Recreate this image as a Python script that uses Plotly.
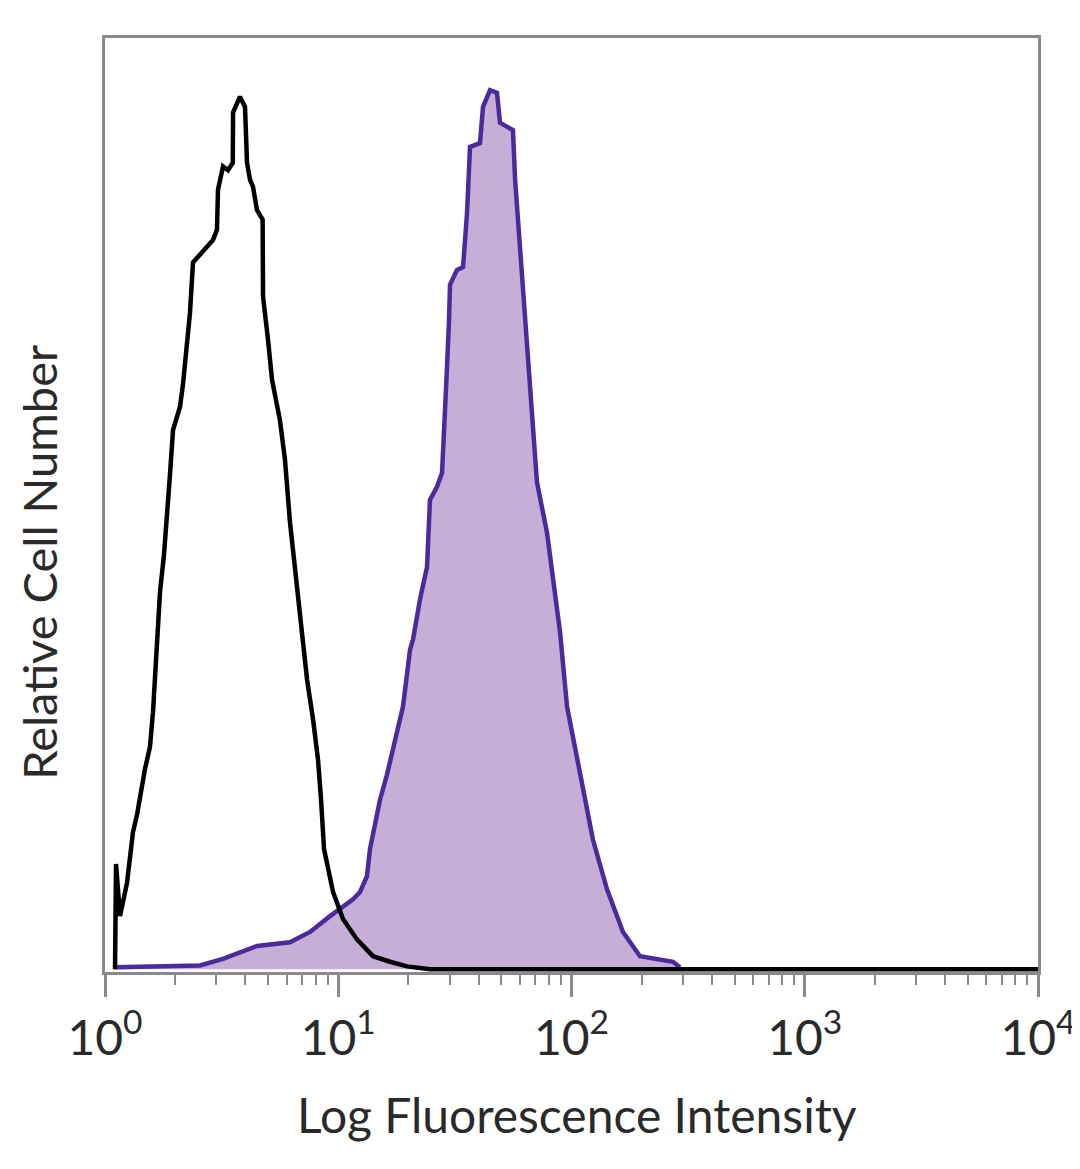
import plotly.graph_objects as go

# Isotype control (black, open histogram)
ctrl_x = [1.104, 1.104, 1.115, 1.160, 1.243, 1.318, 1.372, 1.484, 1.559, 1.606, 1.671, 1.721,
          1.790, 1.844, 1.899, 1.957, 2.097, 2.159, 2.224, 2.314, 2.384, 2.554, 2.737, 2.904,
          3.020, 3.051, 3.206, 3.368, 3.530, 3.540, 3.790, 3.984, 4.063, 4.185, 4.311, 4.485,
          4.740, 4.760, 5.00, 5.20, 5.62, 5.91, 6.21, 6.66, 6.99, 7.35, 7.80, 8.19, 8.44, 8.69,
          9.50, 10.48, 12.03, 14.09, 16.67, 19.73, 24.73, 10000]
ctrl_y = [0.0, 4.3, 11.3, 5.7, 9.3, 14.7, 16.6, 21.5, 23.9, 27.6, 34.0, 40.5,
          44.5, 48.3, 53.1, 57.9, 60.4, 62.8, 66.5, 70.5, 75.9, 76.7, 77.6, 78.3,
          79.4, 83.7, 86.2, 85.8, 86.6, 92.0, 93.7, 92.6, 86.6, 84.8, 84.0, 81.5,
          80.5, 72.2, 67.6, 63.3, 59.0, 54.7, 48.0, 40.5, 35.4, 31.1, 26.8, 22.5, 18.2, 12.9,
          8.3, 5.4, 3.2, 1.4, 0.8, 0.3, 0.0, 0.0]

# Stained sample (purple, filled histogram)
stain_x = [1.104, 2.554, 3.206, 3.790, 4.485, 6.21, 7.57, 9.22, 10.48, 11.57, 12.40, 13.28,
           13.68, 14.38, 15.10, 16.18, 17.17, 18.95, 20.31, 20.92, 22.41, 24.02, 24.73, 26.51,
           27.86, 28.70, 29.27, 29.85, 30.14, 32.29, 34.28, 35.65, 36.72, 40.52, 41.75, 44.74,
           47.93, 49.37, 52.90, 56.1, 57.3, 60.1, 62.6, 66.4, 69.1, 71.1, 78.5, 83.4, 89.3,
           95.7, 101.5, 108.7, 123.6, 141.9, 166.2, 196.6, 272.4, 291.9]
stain_y = [0.2, 0.4, 1.1, 1.8, 2.5, 2.9, 4.0, 5.7, 6.8, 7.5, 8.3, 10.0,
           12.9, 15.6, 18.2, 20.9, 23.6, 28.2, 34.3, 35.4, 39.7, 43.2, 50.4, 51.8,
           53.3, 59.0, 64.7, 69.7, 73.5, 75.1, 75.4, 81.2, 88.3, 88.7, 92.6, 94.4,
           94.1, 90.9, 90.5, 90.1, 84.8, 77.6, 71.4, 63.3, 57.9, 52.3, 46.9, 41.5, 36.2,
           28.2, 24.7, 21.1, 13.9, 8.6, 4.0, 1.4, 0.8, 0.2]

tick_vals = [1, 10, 100, 1000, 10000]
tick_text = ["10<sup>0</sup>", "10<sup>1</sup>", "10<sup>2</sup>", "10<sup>3</sup>", "10<sup>4</sup>"]

FONT = "Lato, Open Sans, sans-serif"
TXT = "#2a2a2a"
FRAME = "#8a8a8a"

fig = go.Figure()
fig.add_trace(go.Scatter(x=stain_x, y=stain_y, mode="lines", fill="tozeroy",
                         fillcolor="#c7aed6", line=dict(color="#4a2b9c", width=4.5),
                         hoverinfo="skip", showlegend=False))
fig.add_trace(go.Scatter(x=ctrl_x, y=ctrl_y, mode="lines",
                         line=dict(color="#000000", width=4.5),
                         hoverinfo="skip", showlegend=False))

# page body adds ~8px offset; figure sized so the plot frame lands at 105..1038 x 38..972
fig.update_layout(
    width=1072, height=1161,
    margin=dict(l=97, r=42, t=30, b=197),
    paper_bgcolor="white", plot_bgcolor="white",
    font=dict(family=FONT, color=TXT),
    xaxis=dict(type="log", range=[0, 4], tickmode="array", tickvals=tick_vals, ticktext=tick_text,
               ticks="outside", ticklen=22, tickwidth=3, tickcolor=FRAME,
               tickfont=dict(size=48, family=FONT, color=TXT),
               showline=True, linecolor=FRAME, linewidth=3, mirror=True,
               showgrid=False, zeroline=False, layer="below traces", automargin=False,
               minor=dict(dtick="D1", ticks="outside", ticklen=10, tickwidth=2,
                          tickcolor=FRAME, showgrid=False)),
    yaxis=dict(range=[-0.3, 100], showticklabels=False, ticks="",
               showline=True, linecolor=FRAME, linewidth=3, mirror=True,
               showgrid=False, zeroline=False, layer="below traces", automargin=False),
    annotations=[
        dict(text="Log Fluorescence Intensity", xref="paper", yref="paper",
             x=0.506, y=-0.153, xanchor="center", yanchor="middle", showarrow=False,
             font=dict(size=48, family=FONT, color=TXT)),
        dict(text="Relative Cell Number", xref="paper", yref="paper",
             x=-0.071, y=0.439, xanchor="center", yanchor="middle", showarrow=False,
             textangle=-90, font=dict(size=47, family=FONT, color=TXT)),
    ],
)

fig.write_html("out.html")
